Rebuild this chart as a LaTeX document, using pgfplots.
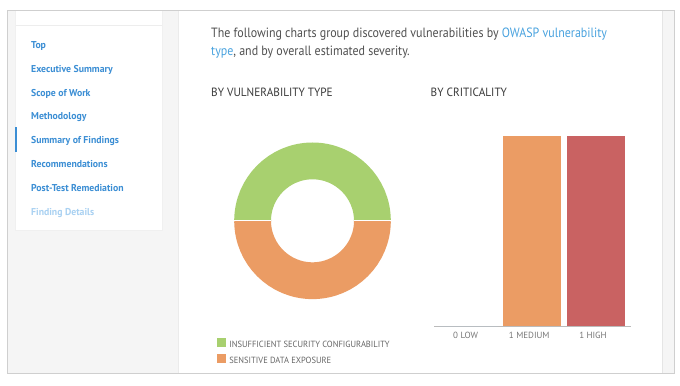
\documentclass[border=0pt]{standalone}
\usepackage{pgfplots}
\pgfplotsset{compat=1.18}
\usepackage{pgfplotstable}
\usepackage{fontspec}
\setmainfont{PT Sans}
\newfontfamily\ui[FakeStretch=0.89]{PT Sans}
\newfontfamily\uih[FakeStretch=0.945]{PT Sans}
\newfontfamily\uil[FakeStretch=0.95]{PT Sans}
\newfontfamily\uit[FakeStretch=1.0]{PT Sans}
\newfontfamily\uib[FakeStretch=0.98]{PT Sans Bold}
\definecolor{greenc}{HTML}{A8D06F}
\definecolor{orangec}{HTML}{EB9C64}
\definecolor{redc}{HTML}{C96262}
\definecolor{navblue}{HTML}{3B8ED4}
\definecolor{navlight}{HTML}{A9D1F2}
\definecolor{linkblue}{HTML}{4AA3DF}
\definecolor{txt}{HTML}{505050}
\definecolor{head}{HTML}{3A3A3A}
\definecolor{legtxt}{HTML}{666666}
\definecolor{tickgrey}{HTML}{777777}
\definecolor{axisgrey}{HTML}{BBBBBB}
\definecolor{sidebg}{HTML}{F5F5F5}
\definecolor{framec}{HTML}{CFCFCF}

\pgfplotstableread{
label value
ISC 1
SDE 1
}\typetable

\begin{document}
\begin{tikzpicture}[x=1bp,y=1bp]
\path[use as bounding box] (0,0) rectangle (680,385);
\fill[white] (0,0) rectangle (680,385);
% page frame
\fill[sidebg] (7,12) rectangle (178,374);
\fill[white] (178,12) rectangle (662,374);
\fill[sidebg] (662,12) rectangle (674,374);
\draw[black!10] (662,12) -- (662,374);
\draw[black!8] (178,12) -- (178,374);
\draw[framec, line width=1bp] (7,12) rectangle (674,374);
% sidebar card
\fill[black!6] (15,154) rectangle (163,374);
\fill[white] (16,155.5) rectangle (162,374);
\draw[black!7] (16,360) -- (162,360);
\fill[navblue] (15,233) rectangle (17,258);
\begin{scope}[every node/.style={anchor=base west, inner sep=0pt, font=\uib\fontsize{10}{12}\selectfont, text=navblue}]
\node at (31,336.5) {Top};
\node at (31,312.7) {Executive Summary};
\node at (31,288.9) {Scope of Work};
\node at (31,265.1) {Methodology};
\node at (31,241.3) {Summary of Findings};
\node at (31,217.5) {Recommendations};
\node at (31,193.7) {Post-Test Remediation};
\node[text=navlight] at (31,169.9) {Finding Details};
\end{scope}
% intro text
\begin{scope}[every node/.style={anchor=base west, inner sep=0pt, font=\ui\fontsize{13.5}{16}\selectfont, text=txt}]
\node at (211,347.7) {The following charts group discovered vulnerabilities by \textcolor{linkblue}{OWASP vulnerability}};
\node at (211,330) {\textcolor{linkblue}{type}, and by overall estimated severity.};
\end{scope}
\begin{scope}[every node/.style={anchor=base west, inner sep=0pt, font=\uih\fontsize{12}{14}\selectfont, text=head}]
\node at (211,289) {BY VULNERABILITY TYPE};
\node at (430.5,289) {BY CRITICALITY};
\end{scope}

\coordinate (donutc) at (312.5,164.2);
\coordinate (barsw) at (434,59);

% donut angles from data
\pgfplotstablegetelem{0}{value}\of\typetable \let\va\pgfplotsretval
\pgfplotstablegetelem{1}{value}\of\typetable \let\vb\pgfplotsretval
\pgfmathsetmacro\angA{180-360*\va/(\va+\vb)}
\pgfmathsetmacro\angB{\angA-360*\vb/(\va+\vb)}

\begin{axis}[
  at={(donutc)}, anchor=center, scale only axis,
  width=160bp, height=160bp,
  xmin=-80, xmax=80, ymin=-80, ymax=80,
  hide axis, clip=false,
  legend cell align=left,
  legend style={draw=none, fill=none, inner sep=0pt, outer sep=0pt,
    at={(-0.097,-0.2325)}, anchor=north west,
    font=\uil\fontsize{9}{10}\selectfont, text=legtxt,
    row sep=4.5bp,
    nodes={inner sep=0pt},
    /tikz/every odd column/.append style={column sep=4bp}},
]
\addlegendimage{legend image code/.code={\fill[greenc] (0bp,-0.8bp) rectangle (8bp,7.2bp);}}
\addlegendentry{INSUFFICIENT SECURITY CONFIGURABILITY}
\addlegendimage{legend image code/.code={\fill[orangec] (0bp,-0.8bp) rectangle (8bp,7.2bp);}}
\addlegendentry{SENSITIVE DATA EXPOSURE}
\draw[greenc, line width=36.8bp] (axis cs:0,0) ++(180:59.9bp) arc[start angle=180, end angle=\angA, radius=59.9bp];
\draw[orangec, line width=36.8bp] (axis cs:0,0) ++(\angA:59.9bp) arc[start angle=\angA, end angle=\angB, radius=59.9bp];
\draw[white, line width=1bp] (axis cs:0,0) ++(180:41.3bp) -- ++(180:37.2bp);
\draw[white, line width=1bp] (axis cs:0,0) ++(\angA:41.3bp) -- ++(\angA:37.2bp);
\end{axis}

\begin{axis}[
  at={(barsw)}, anchor=south west, scale only axis,
  width=197bp, height=190bp,
  xmin=-0.543, xmax=2.55, ymin=0, ymax=1,
  axis x line*=bottom, axis y line=none,
  x axis line style={draw=axisgrey, line width=1bp, -},
  xtick={0,1,2}, xticklabels={0 LOW,1 MEDIUM,1 HIGH},
  major tick length=0pt,
  xticklabel style={font=\uit\fontsize{9}{10}\selectfont, text=tickgrey, inner sep=0pt, yshift=-6bp, xshift=-3bp},
  ytick=\empty,
  clip=false,
]
\addplot[ybar, bar width=58bp, bar shift=0pt, fill=navlight, draw=none] coordinates {(0,0)};
\addplot[ybar, bar width=58bp, bar shift=0pt, fill=orangec, draw=none] coordinates {(1,1)};
\addplot[ybar, bar width=58bp, bar shift=0pt, fill=redc, draw=none] coordinates {(2,1)};
\end{axis}
\end{tikzpicture}
\end{document}
